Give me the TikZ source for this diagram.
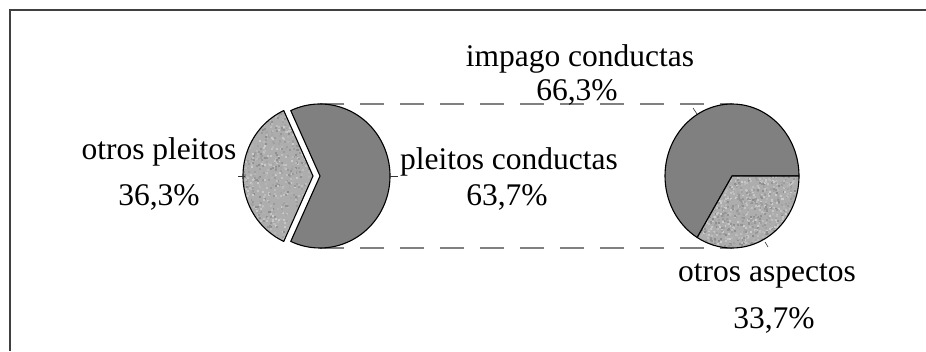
\documentclass[tikz,border=0pt]{standalone}
\usepackage{fontspec}
\setmainfont{Liberation Serif}
\begin{document}
\begin{tikzpicture}[x=1pt,y=1pt,
  lbl/.style={font=\fontsize{31.5}{34}\selectfont, inner sep=0pt, anchor=base},
  frameline/.style={draw=black!75, line width=1.5pt},
  slicedark/.style={fill=black!50, draw=black, line width=1.1pt, line join=round},
  sliceline/.style={draw=black, line width=1.1pt, line join=round},
  guide/.style={draw=black!50, line width=1.1pt, dash pattern=on 24pt off 16pt},
  leader/.style={draw=black!80, line width=0.6pt}]
\useasboundingbox (0,0) rectangle (926,-351);
\fill[white] (0,0) rectangle (926,-351);
\draw[frameline] (926,-10) -- (10,-10) -- (10,-351);
% centres and guide points
\coordinate (Lc) at (320,-176);
\coordinate (Ls) at (313,-176);
\coordinate (Rc) at (732,-176);
\coordinate (Ltop) at (320,-104);
\coordinate (Lbot) at (320,-248);
\coordinate (Rtop) at (732,-104);
\coordinate (Rbot) at (732,-248);
\draw[guide] (Ltop) -- (Rtop);
\draw[guide] (Lbot) -- (Rbot);
% left pie, big slice
\path[slicedark] (Lc) -- ++(114.7:70pt and 72pt) arc[start angle=114.7, end angle=-114.7, x radius=70pt, y radius=72pt] -- cycle;
% left pie, small slice (exploded, textured)
\pgfmathsetseed{7}
\begin{scope}
  \clip (Ls) -- ++(114.7:70pt and 72pt) arc[start angle=114.7, end angle=245.3, x radius=70pt, y radius=72pt] -- cycle;
  \fill[black!32] (240,-100) rectangle (320,-252);
  \foreach \i in {1,...,1100}{
    \pgfmathsetmacro\px{240+rnd*78}
    \pgfmathsetmacro\py{-102-rnd*150}
    \pgfmathtruncatemacro\sh{20+rnd*26}
    \fill[black!\sh] (\px,\py) rectangle ++(2,2);
  }
\end{scope}
\path[sliceline] (Ls) -- ++(114.7:70pt and 72pt) arc[start angle=114.7, end angle=245.3, x radius=70pt, y radius=72pt] -- cycle;
% right pie, big slice
\path[slicedark] (Rc) -- ++(0:67pt and 72pt) arc[start angle=0, end angle=238.7, x radius=67pt, y radius=72pt] -- cycle;
% right pie, small slice (textured)
\begin{scope}
  \clip (Rc) -- ++(0:67pt and 72pt) arc[start angle=0, end angle=-121.3, x radius=67pt, y radius=72pt] -- cycle;
  \fill[black!32] (690,-172) rectangle (802,-252);
  \foreach \i in {1,...,1300}{
    \pgfmathsetmacro\px{690+rnd*110}
    \pgfmathsetmacro\py{-172-rnd*80}
    \pgfmathtruncatemacro\sh{20+rnd*26}
    \fill[black!\sh] (\px,\py) rectangle ++(2,2);
  }
\end{scope}
\path[sliceline] (Rc) -- ++(0:67pt and 72pt) arc[start angle=0, end angle=-121.3, x radius=67pt, y radius=72pt] -- cycle;
% leader ticks
\coordinate (t1a) at (238,-176); \coordinate (t1b) at (245,-176);
\coordinate (t2a) at (390,-176); \coordinate (t2b) at (398,-176);
\coordinate (t3a) at (693,-108); \coordinate (t3b) at (697,-114);
\coordinate (t4a) at (765,-242); \coordinate (t4b) at (768,-247);
\draw[leader] (t1a) -- (t1b);
\draw[leader] (t2a) -- (t2b);
\draw[leader] (t3a) -- (t3b);
\draw[leader] (t4a) -- (t4b);
% labels
\node[lbl] (impago) at (580,-66.5) {impago conductas};
\node[lbl] (impagop) at (577,-100) {66,3\%};
\node[lbl] (otrosp) at (159,-159) {otros pleitos};
\node[lbl] (otrospp) at (159,-205) {36,3\%};
\node[lbl] (pleitosc) at (509,-169) {pleitos conductas};
\node[lbl] (pleitoscp) at (507,-205) {63,7\%};
\node[lbl] (otrosa) at (767,-281) {otros aspectos};
\node[lbl] (otrosap) at (774,-328) {33,7\%};
\end{tikzpicture}
\end{document}
